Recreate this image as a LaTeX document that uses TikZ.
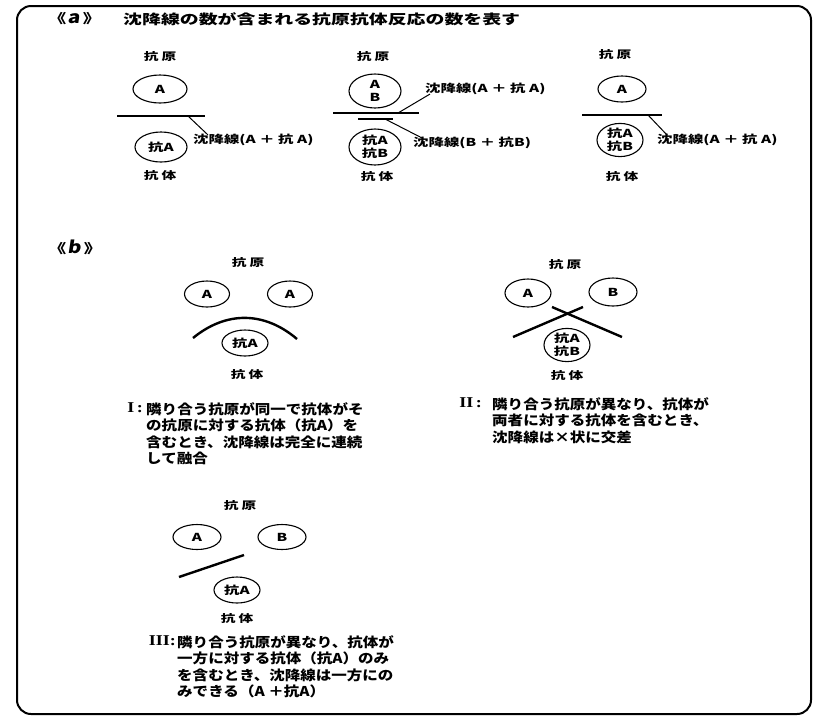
\documentclass[tikz,border=0pt]{standalone}
\usepackage{fontspec}
\setmainfont{Noto Sans CJK JP}
\newfontfamily\jpw{Noto Sans CJK JP}[FakeStretch=1.4]
\newfontfamily\jpc{Noto Sans CJK JP}[FakeStretch=1.15]
\newfontfamily\latw{Noto Sans CJK JP}[FakeStretch=1.2, FakeSlant=0.15]
\newfontfamily\romfont{Liberation Serif}[FakeStretch=1.2]
\usetikzlibrary{shapes.geometric}
\tikzset{
  circ/.style={draw, ellipse, line width=1.1pt, inner sep=0pt, align=center,
    font=\fontsize{11}{13}\jpw\bfseries},
  lab/.style={inner sep=0pt, font=\fontsize{10.5}{13}\jpw\bfseries},
  lbl/.style={inner sep=0pt, font=\fontsize{11}{13}\jpw\bfseries},
  ttl/.style={inner sep=0pt, font=\fontsize{13.5}{15}\jpw\bfseries},
  ttlmark/.style={inner sep=0pt, font=\fontsize{13}{15}\jpw\bfseries},
  captext/.style={inner sep=0pt, align=left, font=\fontsize{13.5}{16.5}\jpc\bfseries},
  numtext/.style={inner sep=0pt, font=\fontsize{15}{16.5}\romfont\bfseries},
  ppt/.style={line width=2.4pt},
  ldr/.style={line width=1pt},
  outerframe/.style={line width=2pt, rounded corners=14pt}
}
\begin{document}
\begin{tikzpicture}[x=1pt,y=-1pt]
\useasboundingbox (0,0) rectangle (821,716);
\fill[white] (0,0) rectangle (821,716);
\draw[outerframe] (17,6) rectangle (811,714);

% title a
\node[ttlmark, anchor=west] (titlea) at (48,19) {《\hspace{1pt}{\fontsize{17}{17}\latw\bfseries a}\hspace{3pt}》};
\node[ttl, anchor=west] (title) at (123,19) {沈降線の数が含まれる抗原抗体反応の数を表す};

% panel a1
\node[lab] (ag1) at (160,57) {抗\hspace{3pt}原};
\node[circ, minimum width=54pt, minimum height=28pt] (c1a) at (160,89) {A};
\coordinate (l1s) at (117,116);
\coordinate (l1e) at (205,116);
\draw[ppt] (l1s) -- (l1e);
\coordinate (p1) at (188,116);
\node[circ, minimum width=52pt, minimum height=30pt] (c1b) at (161,147) {抗A};
\node[lab] (ab1) at (160,175) {抗\hspace{3pt}体};
\node[lbl, anchor=west] (t1) at (193,140) {沈降線(A ＋ 抗 A)};
\draw[ldr] (p1) -- ([xshift=15pt,yshift=-1pt]t1.north west);

% panel a2
\node[lab] (ag2) at (373,57) {抗\hspace{3pt}原};
\node[circ, minimum width=52pt, minimum height=34pt] (c2a) at (375,91) {A\\B};
\coordinate (l2s) at (333,113);
\coordinate (l2e) at (419,113);
\coordinate (m2s) at (358,119);
\coordinate (m2e) at (393,119);
\draw[ppt] (l2s) -- (l2e);
\draw[ppt] (m2s) -- (m2e);
\coordinate (p2a) at (398,113);
\coordinate (p2b) at (385,119);
\node[lbl, anchor=west] (t2a) at (425,89) {沈降線(A ＋ 抗 A)};
\node[lbl, anchor=west] (t2b) at (413,143) {沈降線(B ＋ 抗B)};
\draw[ldr] (p2a) -- ([xshift=5pt,yshift=1pt]t2a.south west);
\draw[ldr] (p2b) -- ([xshift=9pt,yshift=-1pt]t2b.north west);
\node[circ, minimum width=52pt, minimum height=36pt] (c2b) at (375,147) {抗A\\抗B};
\node[lab] (ab2) at (377,176) {抗\hspace{3pt}体};

% panel a3
\node[lab] (ag3) at (615,55) {抗\hspace{3pt}原};
\node[circ, minimum width=48pt, minimum height=26pt] (c3a) at (622,89) {A};
\coordinate (l3s) at (582,115);
\coordinate (l3e) at (662,115);
\draw[ppt] (l3s) -- (l3e);
\coordinate (p3) at (648,115);
\node[lbl, anchor=west] (t3) at (657,140) {沈降線(A ＋ 抗 A)};
\draw[ldr] (p3) -- ([xshift=10pt,yshift=-1pt]t3.north west);
\node[circ, minimum width=46pt, minimum height=31pt] (c3b) at (620,140) {抗A\\抗B};
\node[lab] (ab3) at (622,176) {抗\hspace{3pt}体};

% section b
\node[ttlmark, anchor=west] (titleb) at (48,247) {《\hspace{1pt}{\fontsize{17}{17}\latw\bfseries b}\hspace{3pt}》};

% panel I
\node[lab] (ag4) at (248,263) {抗\hspace{3pt}原};
\node[circ, minimum width=45pt, minimum height=26pt] (c4a) at (207,294) {A};
\node[circ, minimum width=45pt, minimum height=26pt] (c4b) at (290,294) {A};
\coordinate (a4s) at (193,338);
\coordinate (a4e) at (297,339);
\draw[ppt] (a4s) .. controls (226,311) and (264,311) .. (a4e);
\node[circ, minimum width=46pt, minimum height=26pt] (c4c) at (245,343) {抗A};
\node[lab] (ab4) at (247,374) {抗\hspace{3pt}体};
\node[captext, anchor=north west] (cap1) at (146,402) {隣り合う抗原が同一で抗体がそ\\の抗原に対する抗体（抗A）を\\含むとき、沈降線は完全に連続\\して融合};
\node[numtext, anchor=north east] (n1) at ([xshift=-3pt]cap1.north west) {I\,:};

% panel II
\node[lab] (ag5) at (565,265) {抗\hspace{3pt}原};
\node[circ, minimum width=46pt, minimum height=28pt] (c5a) at (528,293) {A};
\node[circ, minimum width=48pt, minimum height=28pt] (c5b) at (613,292) {B};
\coordinate (x1s) at (552,307);
\coordinate (x1e) at (622,337);
\coordinate (x2s) at (583,307);
\coordinate (x2e) at (513,337);
\draw[ppt] (x1s) -- (x1e);
\draw[ppt] (x2s) -- (x2e);
\node[circ, minimum width=46pt, minimum height=30pt] (c5c) at (567,345) {抗A\\抗B};
\node[lab] (ab5) at (567,375) {抗\hspace{3pt}体};
\node[captext, anchor=north west] (cap2) at (492,397) {隣り合う抗原が異なり、抗体が\\両者に対する抗体を含むとき、\\沈降線は×状に交差};
\node[numtext, anchor=north east] (n2) at ([xshift=-10pt]cap2.north west) {II\,:};

% panel III
\node[lab] (ag6) at (240,505) {抗\hspace{3pt}原};
\node[circ, minimum width=48pt, minimum height=25pt] (c6a) at (197,537) {A};
\node[circ, minimum width=48pt, minimum height=25pt] (c6b) at (282,537) {B};
\coordinate (y1s) at (179,577);
\coordinate (y1e) at (244,555);
\draw[ppt] (y1s) -- (y1e);
\node[circ, minimum width=46pt, minimum height=26pt] (c6c) at (237,590) {抗A};
\node[lab] (ab6) at (237,618) {抗\hspace{3pt}体};
\node[captext, anchor=north west] (cap3) at (177,635) {隣り合う抗原が異なり、抗体が\\一方に対する抗体（抗A）のみ\\を含むとき、沈降線は一方にの\\みできる（A ＋抗A）};
\node[numtext, anchor=north east] (n3) at ([xshift=-1pt]cap3.north west) {III:};
\end{tikzpicture}
\end{document}
